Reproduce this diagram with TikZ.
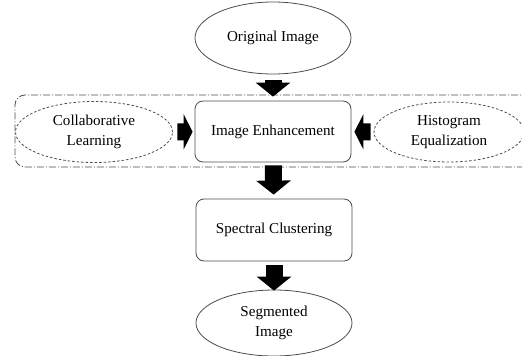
\documentclass[tikz,border=0pt]{standalone}
\usepackage{fontspec}
\setmainfont{Liberation Serif}
\usepackage{tikz}
\usetikzlibrary{shapes.geometric, arrows.meta}

\begin{document}
\begin{tikzpicture}[x=1pt, y=-1pt,
    every node/.style={font=\fontsize{15.1}{19.5}\selectfont, align=center, inner sep=0pt},
    oval/.style={ellipse, draw=black!70, line width=0.8pt},
    dashoval/.style={ellipse, draw=black!70, line width=0.8pt, dash pattern=on 2.5pt off 2pt},
    stepbox/.style={rectangle, rounded corners=8pt, draw=black!70, line width=0.8pt, minimum width=156pt, minimum height=61pt},
    groupbox/.style={rectangle, rounded corners=10pt, draw=black!70, line width=0.8pt, dash pattern=on 7pt off 2pt on 1pt off 2pt},
    bigarrow/.style={line width=17pt, -{Triangle[width=34pt, length=14pt]}},
    sidearrow/.style={line width=17pt, -{Triangle[width=35pt, length=9pt]}}]
            \useasboundingbox (0,0) rectangle (522,356);
            \begin{scope}
            \clip (0,0) rectangle (522,356);
            \node[groupbox, minimum width=525pt, minimum height=72pt] (grp) at (277.5, 131) {};
            \node[oval, minimum width=156pt, minimum height=72pt] (orig) at (273, 38) {Original Image};
            \node[stepbox] (enh) at (273, 131.5) {Image Enhancement};
            \node[dashoval, minimum width=157pt, minimum height=61pt] (collab) at (94, 132) {Collaborative\\Learning};
            \node[dashoval, minimum width=150pt, minimum height=60pt] (hist) at (449, 132) {Histogram\\Equalization};
            \node[stepbox, minimum height=62pt] (spec) at (274, 230) {Spectral Clustering};
            \node[oval, minimum width=156pt, minimum height=66pt] (seg) at (274, 323) {Segmented\\Image};

            \draw[bigarrow, shorten <=6pt, shorten >=4pt] (orig) -- (enh);
            \draw[bigarrow, shorten <=3pt, shorten >=4pt] (enh) -- (spec);
            \draw[bigarrow, shorten <=4pt, shorten >=-1pt] (spec) -- (seg);
            \draw[sidearrow, shorten <=4.5pt, shorten >=2pt] (collab) -- (enh);
            \draw[sidearrow, shorten <=3pt, shorten >=3pt] (hist) -- (enh);
            \end{scope}
        \end{tikzpicture}
\end{document}
